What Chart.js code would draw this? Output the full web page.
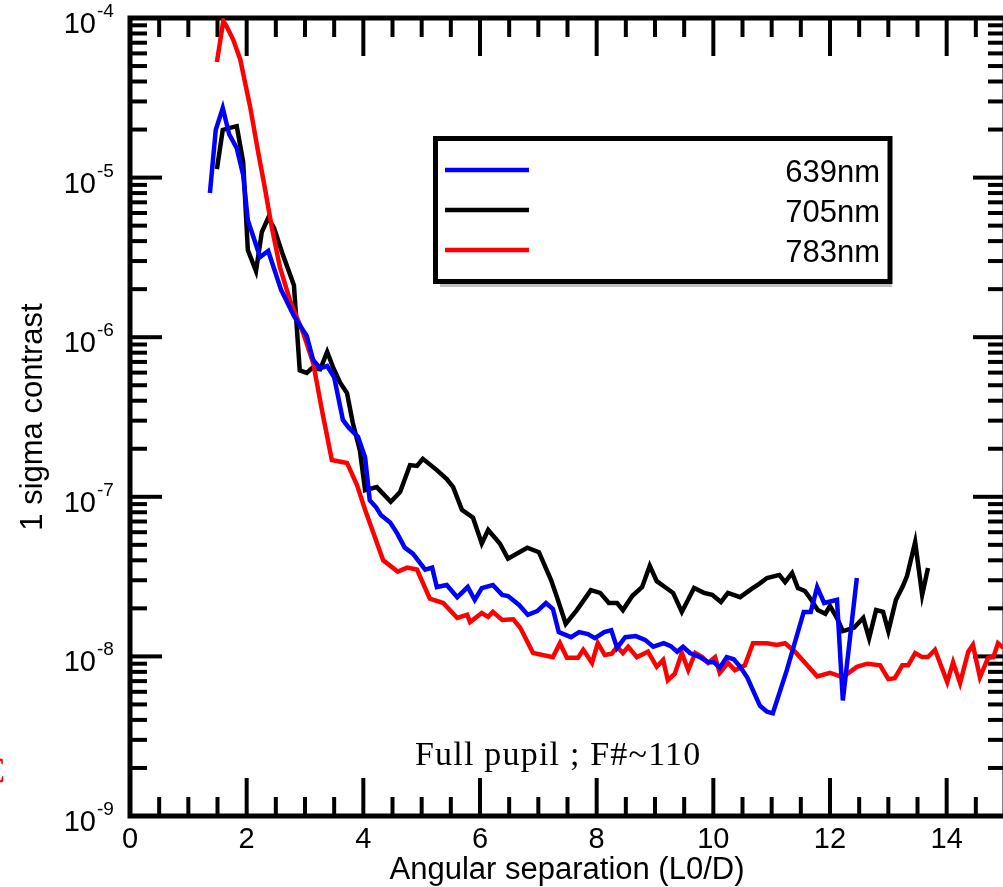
<!DOCTYPE html>
<html>
<head>
<meta charset="utf-8">
<title>1 sigma contrast</title>
<script src="https://cdn.jsdelivr.net/npm/chart.js@4.4.1/dist/chart.umd.min.js"></script>
<style>
html, body { margin: 0; padding: 0; background: #fff; overflow: hidden; }
canvas { display: block; }
</style>
</head>
<body>
<canvas id="contrastChart" width="1012" height="887" style="width:1012px;height:887px"></canvas>
<script>
// valeurs (separation en L0/D, contraste 1 sigma)

// 639nm (bleu)
var sep639 = [1.37,1.47,1.59,1.70,1.83,1.94,2.02,2.23,2.37,2.59,2.81,3.03,3.14,3.26,3.38,3.50,3.65,3.74,3.91,4.03,
  4.11,4.22,4.30,4.46,4.58,4.71,4.85,5.06,5.18,5.26,5.43,5.61,5.79,5.91,6.03,6.22,6.38,6.48,6.67,6.82,
  6.98,7.13,7.25,7.35,7.56,7.70,7.85,7.97,8.13,8.25,8.35,8.49,8.67,8.83,8.97,9.15,9.27,9.38,9.48,9.60,
  9.77,9.91,10.01,10.11,10.23,10.35,10.46,10.58,10.80,10.92,11.02,11.26,11.55,11.67,11.78,11.90,12.12,12.22,12.46];
var contrast639 = [8.0e-6,1.99e-5,2.73e-5,1.87e-5,1.53e-5,1.04e-5,5.4e-6,3.18e-6,3.47e-6,1.98e-6,1.36e-6,1.02e-6,7.2e-7,6.4e-7,6.6e-7,5.6e-7,3.03e-7,2.74e-7,2.37e-7,1.77e-7,
  9.5e-8,8.6e-8,7.7e-8,6.9e-8,5.9e-8,4.8e-8,4.4e-8,3.5e-8,3.6e-8,2.72e-8,2.80e-8,2.35e-8,2.72e-8,2.26e-8,2.68e-8,2.80e-8,2.43e-8,2.39e-8,2.10e-8,1.82e-8,
  1.92e-8,2.16e-8,1.98e-8,1.42e-8,1.32e-8,1.42e-8,1.38e-8,1.30e-8,1.42e-8,1.46e-8,1.13e-8,1.32e-8,1.34e-8,1.27e-8,1.15e-8,1.21e-8,1.16e-8,1.07e-8,1.15e-8,1.05e-8,
  9.9e-9,9.2e-9,9.2e-9,8.5e-9,9.9e-9,9.6e-9,8.6e-9,7.4e-9,4.9e-9,4.5e-9,4.4e-9,8.2e-9,1.90e-8,1.90e-8,2.72e-8,2.16e-8,2.26e-8,5.3e-9,3.1e-8];

// 705nm (noir)
var sep705 = [1.49,1.59,1.71,1.83,1.94,2.02,2.16,2.26,2.37,2.47,2.61,2.81,2.91,3.03,3.12,3.26,3.38,3.48,3.60,3.72,
  3.82,3.94,4.03,4.23,4.47,4.63,4.80,4.92,5.02,5.26,5.43,5.54,5.69,5.88,6.03,6.14,6.34,6.48,6.81,7.01,
  7.22,7.32,7.47,7.66,7.90,8.06,8.21,8.35,8.45,8.61,8.78,8.91,9.03,9.17,9.31,9.46,9.67,9.84,9.98,10.13,
  10.25,10.46,10.65,10.78,10.92,11.13,11.23,11.35,11.45,11.57,11.68,11.79,11.92,12.00,12.12,12.22,12.41,12.57,12.67,12.79,
  12.91,13.00,13.13,13.25,13.32,13.46,13.58,13.68];
var contrast705 = [1.13e-5,1.99e-5,2.05e-5,2.10e-5,1.25e-5,3.52e-6,2.6e-6,4.56e-6,5.6e-6,4.83e-6,3.37e-6,2.12e-6,6.2e-7,5.97e-7,6.4e-7,6.3e-7,8.1e-7,6.5e-7,5.2e-7,4.47e-7,
  2.9e-7,1.96e-7,1.10e-7,1.15e-7,9.3e-8,1.07e-7,1.58e-7,1.56e-7,1.73e-7,1.47e-7,1.29e-7,1.15e-7,8.3e-8,7.4e-8,5.1e-8,6.2e-8,5.1e-8,4.1e-8,4.8e-8,4.5e-8,
  3.0e-8,2.35e-8,1.6e-8,1.95e-8,2.6e-8,2.5e-8,2.16e-8,2.16e-8,1.95e-8,2.39e-8,2.72e-8,3.7e-8,2.96e-8,2.72e-8,2.5e-8,1.90e-8,2.68e-8,2.5e-8,2.43e-8,2.19e-8,
  2.5e-8,2.35e-8,2.64e-8,2.84e-8,3.1e-8,3.24e-8,2.92e-8,3.33e-8,2.68e-8,2.57e-8,2.26e-8,1.95e-8,1.85e-8,2.07e-8,1.74e-8,1.44e-8,1.51e-8,1.74e-8,1.30e-8,1.95e-8,
  1.90e-8,1.44e-8,2.26e-8,2.76e-8,3.19e-8,5.2e-8,2.43e-8,3.58e-8];

// 783nm (rouge)
var sep783 = [1.49,1.60,1.66,1.77,1.89,2.06,2.19,2.31,2.43,2.57,2.74,2.97,3.14,3.29,3.46,3.72,3.89,4.03,4.34,4.59,4.75,4.92,5.14,
  5.37,5.61,5.78,5.83,6.03,6.14,6.22,6.38,6.57,6.69,6.91,7.25,7.37,7.49,7.68,7.77,7.92,8.02,8.14,8.26,
  8.35,8.45,8.54,8.69,8.88,9.03,9.14,9.22,9.34,9.46,9.57,9.69,9.81,9.91,10.03,10.11,10.25,10.37,10.54,10.68,
  10.92,11.09,11.23,11.40,11.61,11.78,12.00,12.22,12.46,12.64,12.86,13.00,13.11,13.24,13.34,13.46,13.58,13.68,13.80,14.01,
  14.11,14.23,14.37,14.45,14.57,14.71,14.80,14.88,14.97];
var contrast783 = [5.3e-5,9.6e-5,8.8e-5,7.3e-5,5.5e-5,2.77e-5,1.49e-5,8.7e-6,4.9e-6,2.75e-6,1.71e-6,1.06e-6,6.9e-7,3.5e-7,1.7e-7,1.63e-7,1.19e-7,8.3e-8,4.0e-8,3.4e-8,3.6e-8,3.5e-8,2.3e-8,
  2.16e-8,1.74e-8,1.82e-8,1.64e-8,1.87e-8,1.77e-8,1.90e-8,1.69e-8,1.71e-8,1.51e-8,1.05e-8,9.9e-9,1.21e-8,9.8e-9,9.8e-9,1.10e-8,9.1e-9,1.21e-8,1.02e-8,1.04e-8,
  1.15e-8,1.05e-8,1.15e-8,9.9e-9,1.07e-8,8.6e-9,9.5e-9,7.1e-9,7.8e-9,1.05e-8,8.2e-9,1.05e-8,9.9e-9,9.1e-9,9.9e-9,7.9e-9,9.1e-9,8.2e-9,8.8e-9,1.21e-8,
  1.21e-8,1.18e-8,1.21e-8,1.07e-8,8.8e-9,7.5e-9,7.9e-9,7.4e-9,8.6e-9,9.0e-9,8.8e-9,7.2e-9,7.3e-9,8.8e-9,8.8e-9,1.05e-8,9.9e-9,9.9e-9,1.10e-8,6.9e-9,
  9.2e-9,6.8e-9,1.07e-8,1.18e-8,7.4e-9,9.8e-9,9.9e-9,1.21e-8,1.13e-8];

// graduations
var xTickLabels = [0, 2, 4, 6, 8, 10, 12, 14];
var yDecades = [-9, -8, -7, -6, -5, -4];

var seriesLabels = ['639nm', '705nm', '783nm'];
var seriesColors = ['#0000ff', '#000000', '#ff0000'];

// transforme 2 listes en points {x, y}
function toPoints(xs, ys) {
  var pts = [];
  for (var i = 0; i < xs.length; i++) {
    pts.push({ x: xs[i], y: ys[i] });
  }
  return pts;
}

function drawLine(ctx, x1, y1, x2, y2) {
  ctx.beginPath();
  ctx.moveTo(x1, y1);
  ctx.lineTo(x2, y2);
  ctx.stroke();
}

// cadre + graduations vers l'interieur (sur les 4 cotes)
var frameTicks = {
  id: 'frameTicks',
  beforeDatasetsDraw: function (chart) {
    var ctx = chart.ctx;
    var a = chart.chartArea;
    var sx = chart.scales.x;
    var sy = chart.scales.y;
    ctx.save();
    ctx.strokeStyle = '#000';
    ctx.lineWidth = 4;
    ctx.lineCap = 'butt';

    // axe x : petit trait tous les 0.5, grand tous les 2
    for (var i = 0; i <= 30; i++) {
      var v = i * 0.5;
      var px = sx.getPixelForValue(v);
      var len = (v % 2 === 0) ? 38 : 19;
      drawLine(ctx, px, a.bottom, px, a.bottom - len);
      drawLine(ctx, px, a.top, px, a.top + len);
    }

    // axe y log : grand trait par decade, petits pour 2..9
    for (var d = 0; d < yDecades.length; d++) {
      var e = yDecades[d];
      for (var m = 1; m < 10; m++) {
        if (e === -4 && m > 1) break;
        var py = sy.getPixelForValue(m * Math.pow(10, e));
        var l = (m === 1) ? 32 : 17;
        drawLine(ctx, a.left, py, a.left + l, py);
        drawLine(ctx, a.right, py, a.right - l, py);
      }
    }

    ctx.lineWidth = 5;
    ctx.strokeRect(a.left, a.top, a.right - a.left, a.bottom - a.top);
    ctx.restore();
  },
  afterDraw: function (chart) {
    var ctx = chart.ctx;
    var sx = chart.scales.x;
    var sy = chart.scales.y;
    ctx.save();
    ctx.fillStyle = '#000';
    ctx.textBaseline = 'alphabetic';

    // etiquettes y : 10 puis exposant
    for (var d = 0; d < yDecades.length; d++) {
      var py = sy.getPixelForValue(Math.pow(10, yDecades[d]));
      ctx.font = '29px "Liberation Sans", Arial, sans-serif';
      ctx.textAlign = 'right';
      ctx.fillText('10', 96, py + 15);
      ctx.font = '19px "Liberation Sans", Arial, sans-serif';
      ctx.textAlign = 'left';
      ctx.fillText(String(yDecades[d]), 97, py - 1);
    }

    // etiquettes x
    ctx.font = '29px "Liberation Sans", Arial, sans-serif';
    ctx.textAlign = 'center';
    for (var i = 0; i < xTickLabels.length; i++) {
      ctx.fillText(String(xTickLabels[i]), sx.getPixelForValue(xTickLabels[i]), 848);
    }

    // titres des axes
    ctx.font = '31px "Liberation Sans", Arial, sans-serif';
    ctx.fillText('Angular separation (L0/D)', 567, 879);
    ctx.save();
    ctx.translate(42, 417);
    ctx.rotate(-Math.PI / 2);
    ctx.fillText('1 sigma contrast', 0, 0);
    ctx.restore();

    // legende encadree
    ctx.fillStyle = 'rgba(0,0,0,0.25)';
    ctx.fillRect(440, 284, 452, 3);
    ctx.fillStyle = '#fff';
    ctx.fillRect(436, 139, 454, 143);
    ctx.strokeStyle = '#000';
    ctx.lineWidth = 5;
    ctx.strokeRect(435.5, 138.5, 454.5, 143);
    var legendY = [170, 210, 250];
    ctx.font = '31px "Liberation Sans", Arial, sans-serif';
    ctx.textAlign = 'right';
    for (var k = 0; k < chart.data.datasets.length; k++) {
      var ds = chart.data.datasets[k];
      ctx.strokeStyle = ds.borderColor;
      ctx.lineWidth = 4.5;
      drawLine(ctx, 445, legendY[k], 529, legendY[k]);
      ctx.fillStyle = '#000';
      ctx.fillText(ds.label, 880, legendY[k] + 12);
    }

    // annotation
    ctx.font = '34px "Liberation Serif", "Times New Roman", serif';
    ctx.textAlign = 'left';
    ctx.letterSpacing = '1.2px';
    ctx.fillStyle = '#000';
    ctx.fillText('Full pupil ; F#~110', 415, 765);

    // morceau de texte rouge coupe au bord gauche
    ctx.letterSpacing = '0px';
    ctx.fillStyle = '#ff0000';
    ctx.font = '38px "Liberation Serif", "Times New Roman", serif';
    ctx.fillText('C', -20, 783);
    ctx.restore();
  }
};

var ctxChart = document.getElementById('contrastChart');

const contrastChart = new Chart(ctxChart, {
  type: 'line',
  data: {
    datasets: [{
      label: seriesLabels[0],
      data: toPoints(sep639, contrast639),
      borderColor: seriesColors[0],
      borderWidth: 4.5,
      pointRadius: 0,
      order: 0
    },
    {
      label: seriesLabels[1],
      data: toPoints(sep705, contrast705),
      borderColor: seriesColors[1],
      borderWidth: 4.5,
      pointRadius: 0,
      order: 2
    },
    {
      label: seriesLabels[2],
      data: toPoints(sep783, contrast783),
      borderColor: seriesColors[2],
      borderWidth: 4.5,
      pointRadius: 0,
      order: 1
    }]
  },
  options: {
    responsive: false,
    animation: false,
    devicePixelRatio: 1,
    layout: { padding: { left: 130, top: 18, right: 7, bottom: 71 } },
    plugins: {
      legend: { display: false },
      tooltip: { enabled: false }
    },
    scales: {
      x: { type: 'linear', min: 0, max: 15, display: false },
      y: { type: 'logarithmic', min: 1e-9, max: 1e-4, display: false }
    }
  },
  plugins: [frameTicks]
});
</script>
</body>
</html>
